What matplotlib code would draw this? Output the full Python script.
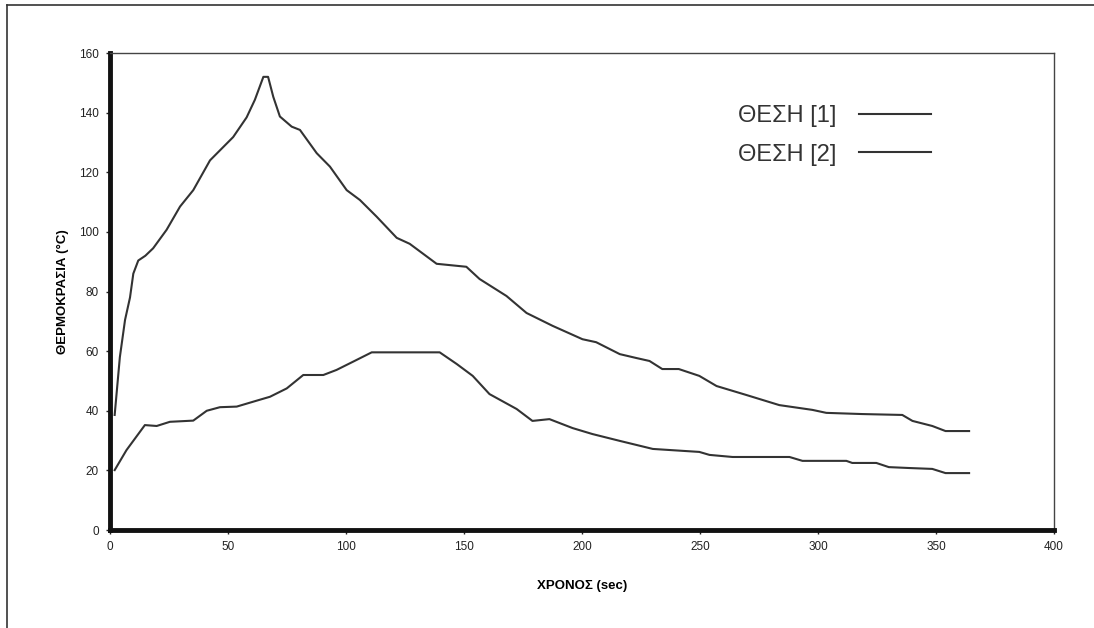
import matplotlib.pyplot as plt
from matplotlib.lines import Line2D

plt.rcParams['font.family'] = ['Liberation Sans', 'DejaVu Sans']

# ΘΕΣΗ [1] (time in sec, temperature in °C)
t1 = [2, 4.2, 6.4, 8.5, 9.9, 12, 15, 18.3, 24, 29.7, 35.3, 42.4, 52.2, 57.9,
      61.4, 65, 67, 69.2, 72, 77, 80.5, 87.6, 93.2, 100.3, 105.9, 113, 121.5,
      127, 138.4, 151, 156.6, 168, 176.5, 187.5, 200.2, 206, 216, 223, 228.6,
      234, 241, 249.7, 257, 269.6, 283.6, 297.6, 303.5, 318.7, 335.7, 340,
      348.4, 354, 364]
T1 = [38.6, 58, 70.5, 78, 86, 90.4, 92, 94.5, 100.7, 108.5, 114, 124, 131.8,
      138.4, 144.3, 152, 152, 145.3, 138.7, 135.3, 134.2, 126.4, 121.9, 114,
      110.7, 105.1, 98, 96, 89.3, 88.3, 84.2, 78.5, 72.8, 68.5, 64, 63, 59,
      57.7, 56.7, 54, 54, 51.7, 48.3, 45.3, 41.9, 40.3, 39.3, 38.9, 38.6,
      36.6, 34.9, 33.2, 33.2]

# ΘΕΣΗ [2]
t2 = [2, 7, 14.8, 19.8, 25.4, 35.3, 41, 46.6, 53.7, 62.2, 67.8, 74.9, 81.9,
      90.4, 96, 103.1, 110.9, 139.7, 146.9, 153.7, 160.8, 172.3, 179, 186.2,
      196, 204.4, 216, 230, 249.7, 254, 263.8, 287.9, 293.4, 312, 314.5,
      324.7, 330, 338.6, 348.4, 354, 364]
T2 = [20.1, 26.8, 35.2, 34.9, 36.3, 36.7, 40, 41.2, 41.4, 43.4, 44.7, 47.5,
      52, 52, 53.7, 56.5, 59.6, 59.6, 55.7, 51.7, 45.6, 40.6, 36.6, 37.2,
      34.2, 32.2, 29.9, 27.2, 26.2, 25.2, 24.5, 24.5, 23.2, 23.2, 22.5, 22.5,
      21.1, 20.8, 20.5, 19.1, 19.1]

labels = ['ΘΕΣΗ [1]', 'ΘΕΣΗ [2]']
xticks = [0, 50, 100, 150, 200, 250, 300, 350, 400]
yticks = [0, 20, 40, 60, 80, 100, 120, 140, 160]

fig = plt.figure(figsize=(10.94, 6.28), dpi=100)
ax = fig.add_axes([0.1005, 0.156, 0.863, 0.7596])

ax.plot(t1, T1, color='#333333', lw=1.5, label=labels[0])
ax.plot(t2, T2, color='#333333', lw=1.5, label=labels[1])

ax.set_xlim(0, 400)
ax.set_ylim(0, 160)
ax.set_xticks(xticks)
ax.set_yticks(yticks)
ax.tick_params(labelsize=8.5, length=3, width=1, colors='#222222', pad=5)

for s in ['left', 'bottom']:
    ax.spines[s].set_linewidth(3.5)
    ax.spines[s].set_color('#111111')
for s in ['top', 'right']:
    ax.spines[s].set_linewidth(1)
    ax.spines[s].set_color('#444444')

ax.set_xlabel('ΧΡΟΝΟΣ (sec)', fontsize=9.5, fontweight='bold', labelpad=19)
ax.set_ylabel('ΘΕΡΜΟΚΡΑΣΙΑ (°C)', fontsize=9.5, fontweight='bold', labelpad=7)

ax.legend(frameon=False, markerfirst=False, fontsize=17, handlelength=3.05,
          handletextpad=0.97, labelspacing=0.7, loc='upper left',
          borderpad=0, borderaxespad=0,
          bbox_to_anchor=(738 / 1094, 1 - 105 / 628),
          bbox_transform=fig.transFigure, labelcolor='#333333')

# frame of the scanned page
fig.add_artist(Line2D([0.0064, 0.0064], [0.0, 0.992], color='#333333', lw=1.2))
fig.add_artist(Line2D([0.0064, 1.0], [0.992, 0.992], color='#333333', lw=1.2))

fig.savefig('out.png', dpi=100, facecolor='white')
